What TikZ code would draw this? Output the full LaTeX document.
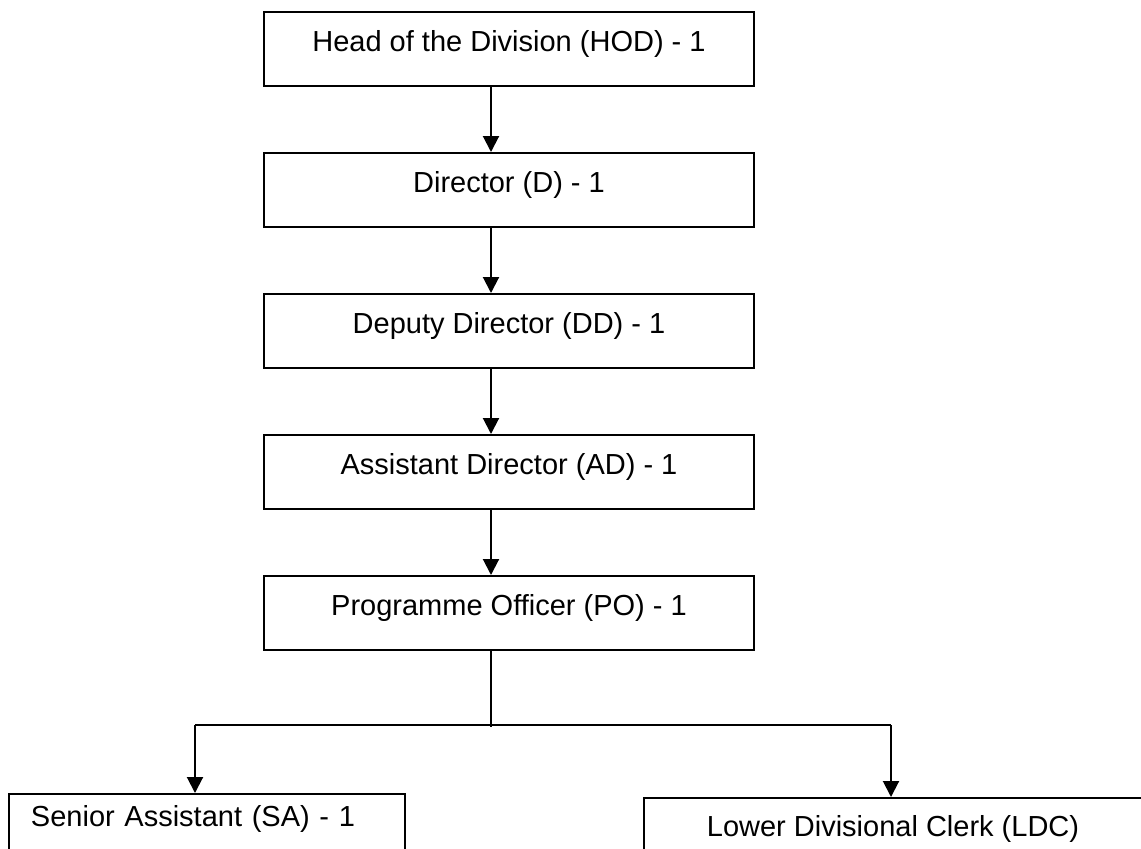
\documentclass[tikz,border=0pt]{standalone}
\usepackage{fontspec}
\setmainfont{Liberation Sans}
\usetikzlibrary{arrows.meta,positioning}
\tikzset{
  rankbox/.style={draw, line width=1pt, font=\fontsize{14.5pt}{17pt}\selectfont,
    inner ysep=0pt, text height=19.5pt, text depth=17.5pt, minimum width=245pt},
  rankarrow/.style={-{Triangle[length=8pt,width=8pt]}, line width=1pt},
  rankline/.style={line width=0.8pt}
}

\begin{document}
\begin{tikzpicture}[x=0.5pt, y=-0.5pt, node distance=32.5pt]
    \clip (0,0) rectangle (1141,848);
    \node[rankbox, anchor=north] (hod) at (509,11) {Head of the Division (HOD) - 1};
    \node[rankbox, below=of hod] (dir) {Director (D) - 1};
    \node[rankbox, below=of dir] (dd) {Deputy Director (DD) - 1};
    \node[rankbox, below=of dd] (ad) {Assistant Director (AD) - 1};
    \node[rankbox, below=of ad] (po) {Programme Officer (PO) - 1};
    \node[rankbox, anchor=north west, minimum width=198pt, text width=176pt, align=left,
      inner xsep=11pt, text height=16pt, text depth=21pt] (sa) at (8,793) {Senior Assistant (SA) - 1};
    \node[rankbox, anchor=north west, minimum width=249pt, text height=19pt, text depth=18pt]
      (ldc) at (643,797) {Lower Divisional Clerk (LDC)};
    \coordinate (split) at (491,725);
    \coordinate (busL) at (195,725);
    \coordinate (busR) at (891,725);
    \draw[rankarrow] ([xshift=-9pt]hod.south) -- ([xshift=-9pt]dir.north);
    \draw[rankarrow] ([xshift=-9pt]dir.south) -- ([xshift=-9pt]dd.north);
    \draw[rankarrow] ([xshift=-9pt]dd.south) -- ([xshift=-9pt]ad.north);
    \draw[rankarrow] ([xshift=-9pt]ad.south) -- ([xshift=-9pt]po.north);
    \draw[rankline] ([xshift=-9pt]po.south) -- ([yshift=-1pt]split);
    \draw[line width=1pt] (busL) -- (busR);
    \draw[rankarrow] (busL) -- (busL |- sa.north);
    \draw[rankarrow] (busR) -- (busR |- ldc.north);
\end{tikzpicture}
\end{document}
